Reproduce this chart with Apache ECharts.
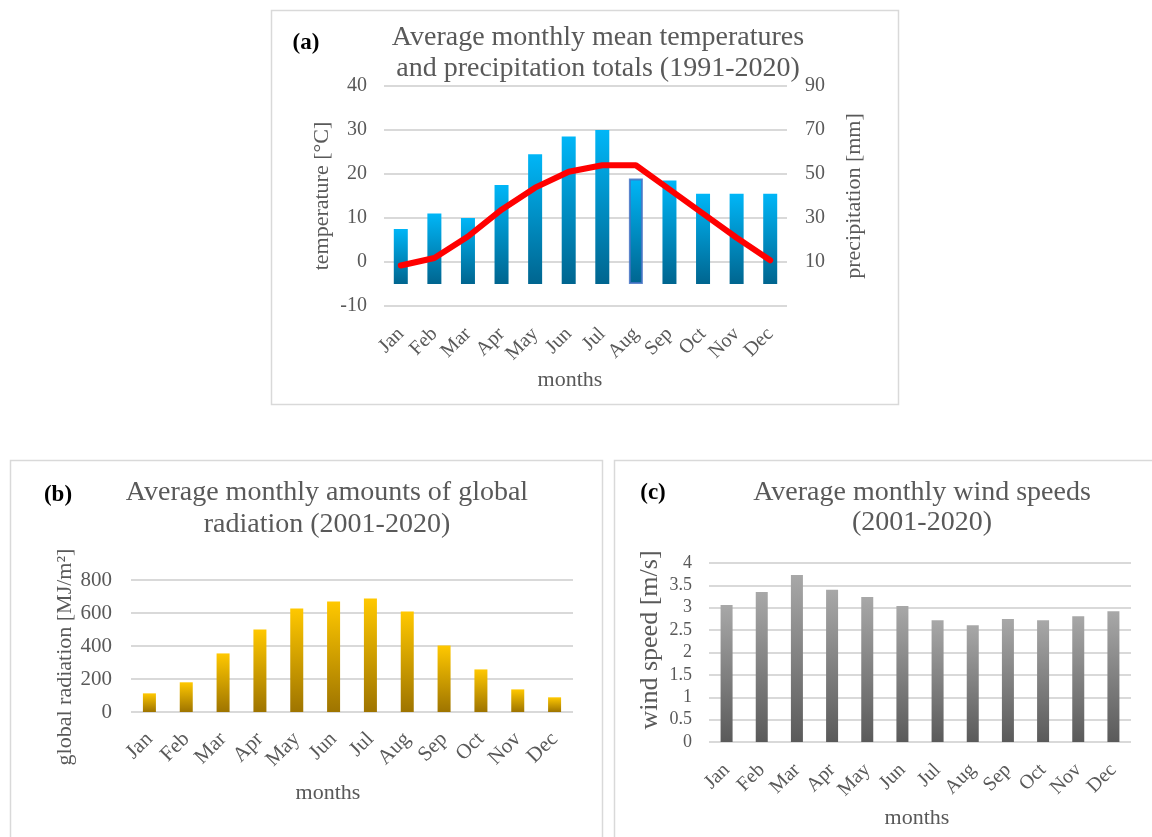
<!DOCTYPE html>
<html>
<head>
<meta charset="utf-8">
<script src="https://cdn.jsdelivr.net/npm/echarts/dist/echarts.min.js"></script>
<style>
html,body{margin:0;padding:0;background:#ffffff;}
#chart{width:1152px;height:837px;}
</style>
</head>
<body>
<div id="chart"></div>
<script>
// ---- data ----
const months = ['Jan','Feb','Mar','Apr','May','Jun','Jul','Aug','Sep','Oct','Nov','Dec'];
const temperature = [-0.8, 0.9, 5.8, 11.9, 16.9, 20.5, 22.0, 22.0, 16.5, 11.0, 5.5, 0.4];   // °C
const precipitation = [25, 32, 30, 45, 59, 67, 70, 48, 47, 41, 41, 41];                     // mm
const radiation = [113, 180, 355, 500, 627, 670, 688, 609, 403, 258, 137, 89];               // MJ/m²
const windSpeed = [3.06, 3.35, 3.73, 3.40, 3.24, 3.04, 2.72, 2.61, 2.75, 2.72, 2.81, 2.92];  // m/s

const titleA = 'Average monthly mean temperatures\nand precipitation totals (1991-2020)';
const titleB = 'Average monthly amounts of global\nradiation (2001-2020)';
const titleC = 'Average monthly wind speeds\n(2001-2020)';

// ---- styling ----
const FONT = '"Liberation Serif", "Times New Roman", serif';
const TXT = '#595959';
const GRIDC = '#D9D9D9';

function grad(top, bottom) {
  return new echarts.graphic.LinearGradient(0, 0, 0, 1, [
    { offset: 0, color: top }, { offset: 1, color: bottom }
  ]);
}

function catAxis(gridIndex, margin, labelSize, nameGap, namePad) {
  return {
    type: 'category', gridIndex: gridIndex, data: months,
    boundaryGap: true,
    axisLine: { show: false }, axisTick: { show: false },
    axisLabel: { rotate: 45, interval: 0, margin: margin, fontFamily: FONT, fontSize: labelSize, color: TXT },
    name: 'months', nameLocation: 'middle', nameGap: nameGap,
    nameTextStyle: { fontFamily: FONT, fontSize: 22, color: TXT, padding: namePad }
  };
}

function valAxis(gridIndex, min, max, interval, labelSize, labelMargin, name, nameGap, nameSize, namePad, extra) {
  return Object.assign({
    type: 'value', gridIndex: gridIndex, min: min, max: max, interval: interval,
    axisLine: { show: false }, axisTick: { show: false },
    axisLabel: { margin: labelMargin, fontFamily: FONT, fontSize: labelSize, color: TXT },
    splitLine: { show: true, lineStyle: { color: GRIDC, width: 2 } },
    name: name, nameLocation: 'middle', nameRotate: 90, nameGap: nameGap,
    nameTextStyle: { fontFamily: FONT, fontSize: nameSize, color: TXT, padding: namePad }
  }, extra || {});
}

const precipData = precipitation.map(function (v, i) {
  if (i === 7) {
    return { value: v, itemStyle: { borderColor: 'rgba(68,114,196,0.85)', borderWidth: 2 } };
  }
  return v;
});

const chart = echarts.init(document.getElementById('chart'), null, { renderer: 'canvas' });

const titleStyle = { fontFamily: FONT, fontSize: 28, fontWeight: 'normal', color: TXT };

chart.setOption({
  animation: false,
  backgroundColor: '#ffffff',
  title: [
    { text: titleA, left: 598, top: 22, textAlign: 'center', padding: 0,
      textStyle: Object.assign({ lineHeight: 31 }, titleStyle) },
    { text: titleB, left: 327, top: 477, textAlign: 'center', padding: 0,
      textStyle: Object.assign({ lineHeight: 32 }, titleStyle) },
    { text: titleC, left: 922, top: 478, textAlign: 'center', padding: 0,
      textStyle: Object.assign({ lineHeight: 30 }, titleStyle) }
  ],
  graphic: [
    { type: 'rect', z: -10, silent: true, shape: { x: 271.5, y: 10.5, width: 627, height: 394 },
      style: { fill: 'none', stroke: GRIDC, lineWidth: 1.5 } },
    { type: 'rect', z: -10, silent: true, shape: { x: 10.5, y: 460.5, width: 592, height: 390 },
      style: { fill: 'none', stroke: GRIDC, lineWidth: 1.5 } },
    { type: 'rect', z: -10, silent: true, shape: { x: 614.5, y: 460.5, width: 560, height: 390 },
      style: { fill: 'none', stroke: GRIDC, lineWidth: 1.5 } },
    { type: 'text', x: 306, y: 43, style: { text: '(a)', font: 'bold 23px ' + FONT, fill: '#000', textAlign: 'center', textVerticalAlign: 'middle' } },
    { type: 'text', x: 58, y: 495, style: { text: '(b)', font: 'bold 23px ' + FONT, fill: '#000', textAlign: 'center', textVerticalAlign: 'middle' } },
    { type: 'text', x: 653, y: 493, style: { text: '(c)', font: 'bold 23px ' + FONT, fill: '#000', textAlign: 'center', textVerticalAlign: 'middle' } }
  ],
  grid: [
    { left: 384, right: 365, top: 86, bottom: 531, outerBoundsMode: 'none' },
    { left: 131, right: 579, top: 580, bottom: 125, outerBoundsMode: 'none' },
    { left: 709, right: 21, top: 563, bottom: 95, outerBoundsMode: 'none' }
  ],
  xAxis: [
    catAxis(0, 25, 20, 63, [0, 31, 0, 0]),
    catAxis(1, 24, 21, 70, [0, 48, 0, 0]),
    catAxis(2, 25, 20, 65, [0, 6, 0, 0])
  ],
  yAxis: [
    valAxis(0, -10, 40, 10, 20, 17, 'temperature [°C]', 51, 22, [0, 0, 0, 0]),
    valAxis(0, -10, 90, 20, 20, 18, 'precipitation [mm]', 56, 22, [0, 0, 0, 0], {
      position: 'right',
      splitLine: { show: false },
      axisLabel: { margin: 18, fontFamily: FONT, fontSize: 20, color: TXT,
        formatter: function (v) { return v < 0 ? '' : String(v); } }
    }),
    valAxis(1, 0, 800, 200, 21, 19, 'global radiation [MJ/m²]', 55, 22, [0, 22, 0, 0]),
    valAxis(2, 0, 4, 0.5, 18, 17, 'wind speed [m/s]', 46, 26, [0, 0, 0, 25])
  ],
  series: [
    { name: 'precipitation', type: 'bar', xAxisIndex: 0, yAxisIndex: 1, data: precipData,
      barWidth: 14, itemStyle: { color: grad('#00B6F7', '#00658F') }, z: 2 },
    { name: 'temperature', type: 'line', xAxisIndex: 0, yAxisIndex: 0, data: temperature,
      smooth: false, symbol: 'none', z: 3,
      lineStyle: { color: '#FF0000', width: 6, cap: 'round', join: 'round' } },
    { name: 'global radiation', type: 'bar', xAxisIndex: 1, yAxisIndex: 2, data: radiation,
      barWidth: 13, itemStyle: { color: grad('#FFC800', '#9E7400') } },
    { name: 'wind speed', type: 'bar', xAxisIndex: 2, yAxisIndex: 3, data: windSpeed,
      barWidth: 12, itemStyle: { color: grad('#A8A8A8', '#5A5A5A') } }
  ]
});
</script>
</body>
</html>
